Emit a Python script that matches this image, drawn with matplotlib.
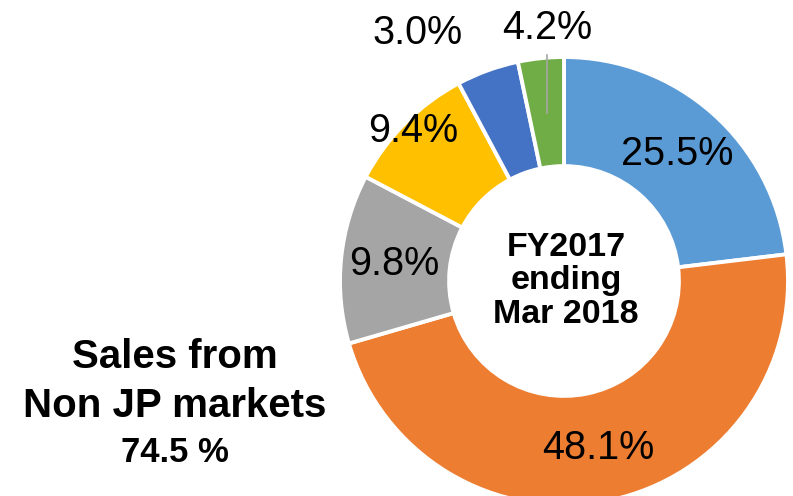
import matplotlib.pyplot as plt
import numpy as np

plt.rcParams['font.family'] = ['Liberation Sans', 'DejaVu Sans']

# slice sizes as read from the ring (clockwise from 12 o'clock)
segments = ['seg1', 'seg2', 'seg3', 'seg4', 'seg5', 'seg6']
shares = [23.1, 47.4, 12.2, 9.5, 4.5, 3.3]
# label texts exactly as printed on the chart
label_text = ['25.5%', '48.1%', '9.8%', '9.4%', '3.0%', '4.2%']
colors = ['#5B9BD5', '#ED7D31', '#A5A5A5', '#FFC000', '#4472C4', '#70AD47']

center_title = 'FY2017\nending\nMar 2018'
side_title = ['Sales from', 'Non JP markets']
side_value = '74.5 %'

W, H = 793, 496
fig = plt.figure(figsize=(W / 100, H / 100), dpi=100)

# pie centre at (564, 281) px from top-left, outer radius 224 px
cx, cy, R = 564, H - 281, 224
ax = fig.add_axes([(cx - R) / W, (cy - R) / H, 2 * R / W, 2 * R / H])

wedges, _ = ax.pie(shares, colors=colors, startangle=90, counterclock=False,
                   radius=1.0,
                   wedgeprops=dict(width=0.487, edgecolor='white', linewidth=2.8))
for w in wedges:
    w.set_clip_on(False)
ax.set_xlim(-1, 1)
ax.set_ylim(-1, 1)
ax.axis('off')

# labels: inside ones sit at mid ring, the small slices get pushed outside
label_r = [0.76, 0.76, 0.76, 0.95, None, None]
outside_xy = {4: (-0.652, 1.107), 5: (-0.076, 1.129)}
for i, w in enumerate(wedges):
    if i in outside_xy:
        x, y = outside_xy[i]
    else:
        mid = np.deg2rad((w.theta1 + w.theta2) / 2)
        x, y = label_r[i] * np.cos(mid), label_r[i] * np.sin(mid)
    ax.text(x, y, label_text[i], ha='center', va='center', fontsize=28.5,
            color='black', clip_on=False)

# leader line for the 4.2% label
ax.plot([-0.076, -0.076], [1.009, 0.75], color='#A6A6A6', lw=1.2, clip_on=False)

ax.text(0.01, 0.0, center_title, ha='center', va='center', fontsize=24.5,
        fontweight='bold', linespacing=1.1)

fig.text(175 / W, 1 - 368 / H, side_title[0], ha='center', va='baseline',
         fontsize=29, fontweight='bold')
fig.text(175 / W, 1 - 417 / H, side_title[1], ha='center', va='baseline',
         fontsize=29, fontweight='bold')
fig.text(175 / W, 1 - 462 / H, side_value, ha='center', va='baseline',
         fontsize=25, fontweight='bold')

fig.savefig('out.png', dpi=100)
